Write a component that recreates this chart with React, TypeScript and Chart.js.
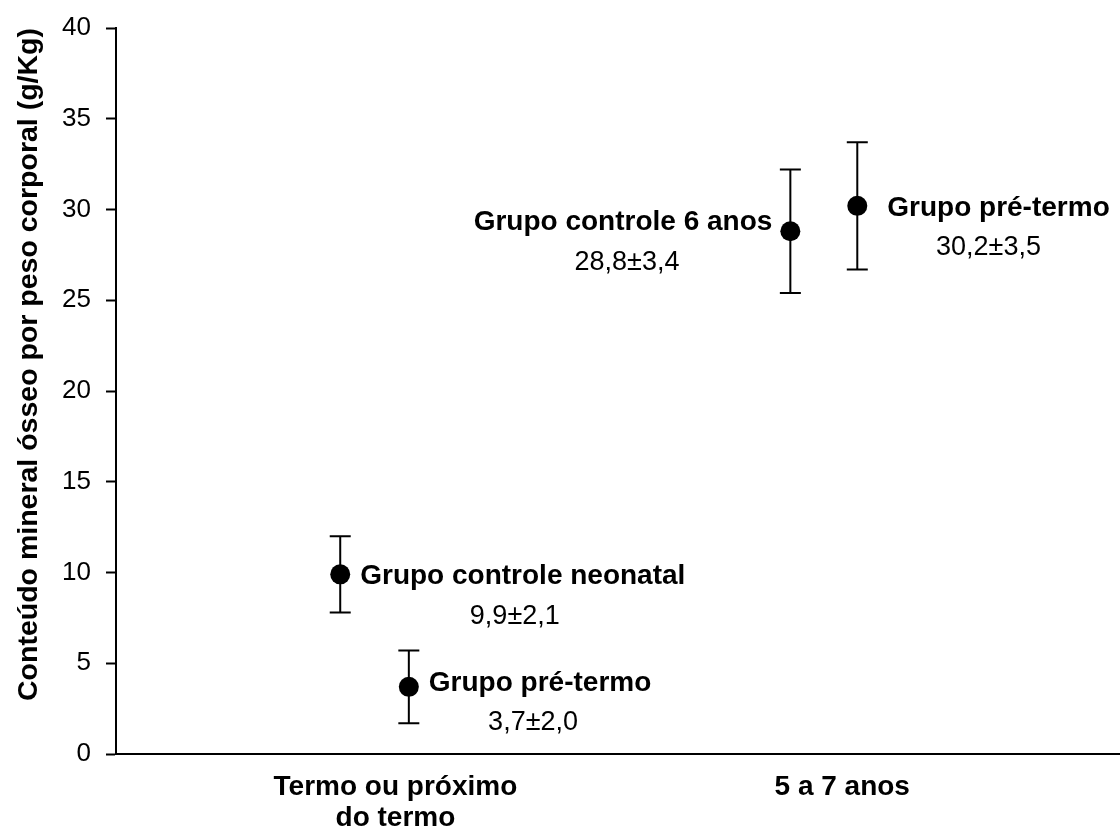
import React, { useEffect, useRef } from "react";
import { Chart, registerables } from "chart.js";

Chart.register(...registerables);

// ---- data ----
const groupNames = [
  "Grupo controle neonatal",
  "Grupo pré-termo",
  "Grupo controle 6 anos",
  "Grupo pré-termo",
];
const meanValues = [9.9, 3.7, 28.8, 30.2];
const sdValues = [2.1, 2.0, 3.4, 3.5];
const valueLabels = ["9,9±2,1", "3,7±2,0", "28,8±3,4", "30,2±3,5"];
const xPositions = [1.34, 1.75, 4.03, 4.43];
const categoryLabels = [["Termo ou próximo", "do termo"], ["5 a 7 anos"]];
const categoryPositions = [1.67, 4.34];
const yMin = 0;
const yMax = 40;
const yStep = 5;
const yAxisTitle = "Conteúdo mineral ósseo por peso corporal (g/Kg)";

// ---- layout of the annotation text (not data) ----
const labelLayout = [
  { side: "right", gap: 20, dy: 0, valueDx: -8 },
  { side: "right", gap: 20, dy: -6, valueDx: -7 },
  { side: "left", gap: 18, dy: -11, valueDx: 4 },
  { side: "right", gap: 30, dy: 0, valueDx: -10 },
];

const FONT = "'Liberation Sans', Arial, Helvetica, sans-serif";

const errorBarPlugin = {
  id: "errorBars",
  beforeDatasetsDraw(chart: any) {
    const { ctx } = chart;
    const xs = chart.scales.x;
    const ys = chart.scales.y;
    ctx.save();
    ctx.strokeStyle = "#000";
    ctx.lineWidth = 2;
    meanValues.forEach((m, i) => {
      const px = xs.getPixelForValue(xPositions[i]);
      const top = ys.getPixelForValue(m + sdValues[i]);
      const bot = ys.getPixelForValue(m - sdValues[i]);
      const half = 10.5;
      ctx.beginPath();
      ctx.moveTo(px, top);
      ctx.lineTo(px, bot);
      ctx.moveTo(px - half, top);
      ctx.lineTo(px + half, top);
      ctx.moveTo(px - half, bot);
      ctx.lineTo(px + half, bot);
      ctx.stroke();
    });
    ctx.restore();
  },
};

const annotationPlugin = {
  id: "pointAnnotations",
  afterDatasetsDraw(chart: any) {
    const { ctx } = chart;
    const xs = chart.scales.x;
    const ys = chart.scales.y;
    ctx.save();
    ctx.fillStyle = "#000";
    ctx.textBaseline = "middle";
    groupNames.forEach((name, i) => {
      const lay = labelLayout[i];
      const px = xs.getPixelForValue(xPositions[i]);
      const py = ys.getPixelForValue(meanValues[i]);
      ctx.font = `bold 28px ${FONT}`;
      const w = ctx.measureText(name).width;
      const left = lay.side === "right" ? px + lay.gap : px - lay.gap - w;
      const cy = py + lay.dy + 2;
      ctx.textAlign = "left";
      ctx.fillText(name, left, cy);
      ctx.font = `27px ${FONT}`;
      ctx.textAlign = "center";
      ctx.fillText(valueLabels[i], left + w / 2 + lay.valueDx, cy + 40);
    });
    ctx.restore();
  },
};

export default function App() {
  const canvasRef = useRef<HTMLCanvasElement | null>(null);

  useEffect(() => {
    if (!canvasRef.current) return;
    const chart = new Chart(canvasRef.current, {
      type: "scatter",
      data: {
        datasets: [
          {
            data: xPositions.map((x, i) => ({ x, y: meanValues[i] })),
            pointRadius: 10,
            pointHoverRadius: 10,
            backgroundColor: "#000",
            borderColor: "#000",
            borderWidth: 0,
            pointStyle: "circle",
          },
        ],
      },
      options: {
        animation: false,
        responsive: false,
        devicePixelRatio: 1,
        layout: {
          autoPadding: false,
          padding: { top: 28, left: 0, right: 0, bottom: 0 },
        },
        plugins: {
          legend: { display: false },
          tooltip: { enabled: false },
        },
        scales: {
          x: {
            type: "linear",
            position: "bottom",
            min: 0,
            max: 6,
            afterBuildTicks: (s: any) => {
              s.ticks = categoryPositions.map((v) => ({ value: v }));
            },
            afterFit: (s: any) => {
              s.height = 73;
              s.paddingLeft = 0;
              s.paddingRight = 0;
            },
            ticks: {
              autoSkip: false,
              maxRotation: 0,
              minRotation: 0,
              padding: 10,
              color: "#000",
              font: { family: FONT, size: 28, weight: "bold", lineHeight: 1.1 },
              callback: (_v: any, i: number) => categoryLabels[i],
            },
            grid: { display: false },
            border: { display: true, color: "#000", width: 2 },
          },
          y: {
            type: "linear",
            min: yMin,
            max: yMax,
            afterFit: (s: any) => {
              s.width = 116;
              s.paddingTop = 0;
              s.paddingBottom = 0;
            },
            ticks: {
              stepSize: yStep,
              padding: 15,
              color: "#000",
              font: { family: FONT, size: 26 },
            },
            grid: {
              display: true,
              drawOnChartArea: false,
              drawTicks: true,
              tickLength: 10,
              tickColor: "#000",
              tickWidth: 2,
              color: "#000",
            },
            border: { display: true, color: "#000", width: 2 },
            title: {
              display: true,
              text: yAxisTitle,
              align: "end",
              color: "#000",
              font: { family: FONT, size: 28.5, weight: "bold", lineHeight: 1.2 },
              padding: { top: 12, bottom: 0 },
            },
          },
        },
      } as any,
      plugins: [errorBarPlugin, annotationPlugin],
    });
    return () => chart.destroy();
  }, []);

  return (
    <div
      style={{
        position: "absolute",
        left: 0,
        top: 0,
        width: 1120,
        height: 827,
        background: "#fff",
      }}
    >
      <canvas ref={canvasRef} width={1120} height={827} />
    </div>
  );
}
